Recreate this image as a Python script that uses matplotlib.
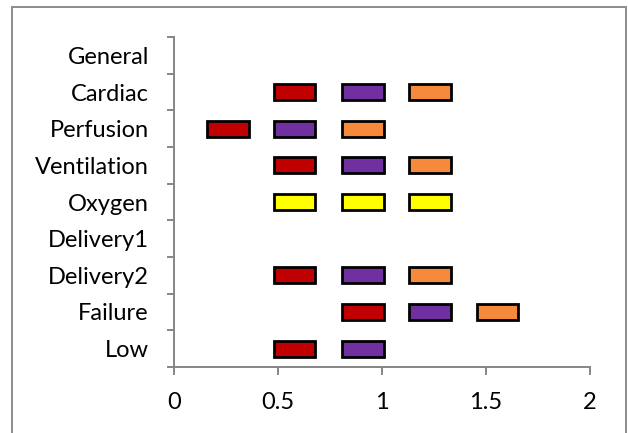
import numpy as np
import matplotlib
matplotlib.use("Agg")
import matplotlib.pyplot as plt
from matplotlib.patches import Rectangle

# ── Data ──────────────────────────────────────────────────────────────────
categories = ["General", "Cardiac", "Perfusion", "Ventilation", "Oxygen",
              "Delivery1", "Delivery2", "Failure", "Low"]
nan = np.nan
first_start = [nan, 0.48, 0.16, 0.48, 0.48, nan, 0.48, 0.81, 0.48]
second_start = [nan, 0.81, 0.48, 0.81, 0.81, nan, 0.81, 1.13, 0.81]
third_start = [nan, 1.13, 0.81, 1.13, 1.13, nan, 1.13, 1.455, nan]
box_width = 0.2

RED, PURPLE, ORANGE, YELLOW = "#C00000", "#7030A0", "#F58A3C", "#FFFF00"
first_color = [RED, RED, RED, RED, YELLOW, RED, RED, RED, RED]
second_color = [PURPLE, PURPLE, PURPLE, PURPLE, YELLOW, PURPLE, PURPLE, PURPLE, PURPLE]
third_color = [ORANGE, ORANGE, ORANGE, ORANGE, YELLOW, ORANGE, ORANGE, ORANGE, ORANGE]

x_ticks = [0, 0.5, 1, 1.5, 2]
x_labels = ["0", "0.5", "1", "1.5", "2"]

# ── Chart ─────────────────────────────────────────────────────────────────
plt.rcParams["font.family"] = ["Lato", "DejaVu Sans"]
AXIS_GRAY = "#858585"
FS = 17

fig = plt.figure(figsize=(6.28, 4.33), dpi=100)
ax = fig.add_axes([174 / 628, 1 - 367 / 433, 416 / 628, 330 / 433])

n = len(categories)
ypos = np.arange(n)[::-1]  # first category on top
for starts, cols in [(first_start, first_color),
                     (second_start, second_color),
                     (third_start, third_color)]:
    s = np.array(starts)
    ok = ~np.isnan(s)
    ax.barh(ypos[ok], box_width, left=s[ok], height=0.44,
            color=[c for c, k in zip(cols, ok) if k],
            edgecolor="black", linewidth=2.0, zorder=3)

ax.set_xlim(0, 2)
ax.set_ylim(-0.5, n - 0.5)

# boundaries get tick marks, centres get the labels
ax.set_yticks(np.arange(n + 1) - 0.5)
ax.set_yticklabels([])
ax.set_yticks(ypos, minor=True)
ax.set_yticklabels(categories, minor=True, fontsize=FS)
ax.tick_params(axis="y", which="major", direction="out", length=5,
               width=1.4, color=AXIS_GRAY)
ax.tick_params(axis="y", which="minor", length=0, pad=18)

ax.set_xticks(x_ticks)
ax.set_xticklabels(x_labels, fontsize=FS)
ax.tick_params(axis="x", direction="out", length=6, width=1.4,
               color=AXIS_GRAY, pad=12)

for side in ["top", "right"]:
    ax.spines[side].set_visible(False)
for side in ["left", "bottom"]:
    ax.spines[side].set_color(AXIS_GRAY)
    ax.spines[side].set_linewidth(1.4)

# chart frame
fig.patches.append(Rectangle((12 / 628, -0.05), 614 / 628, 1 - 7 / 433 + 0.05,
                             transform=fig.transFigure, fill=False,
                             edgecolor="#8C8C8C", linewidth=1.4))

fig.savefig("out.png", dpi=100)
